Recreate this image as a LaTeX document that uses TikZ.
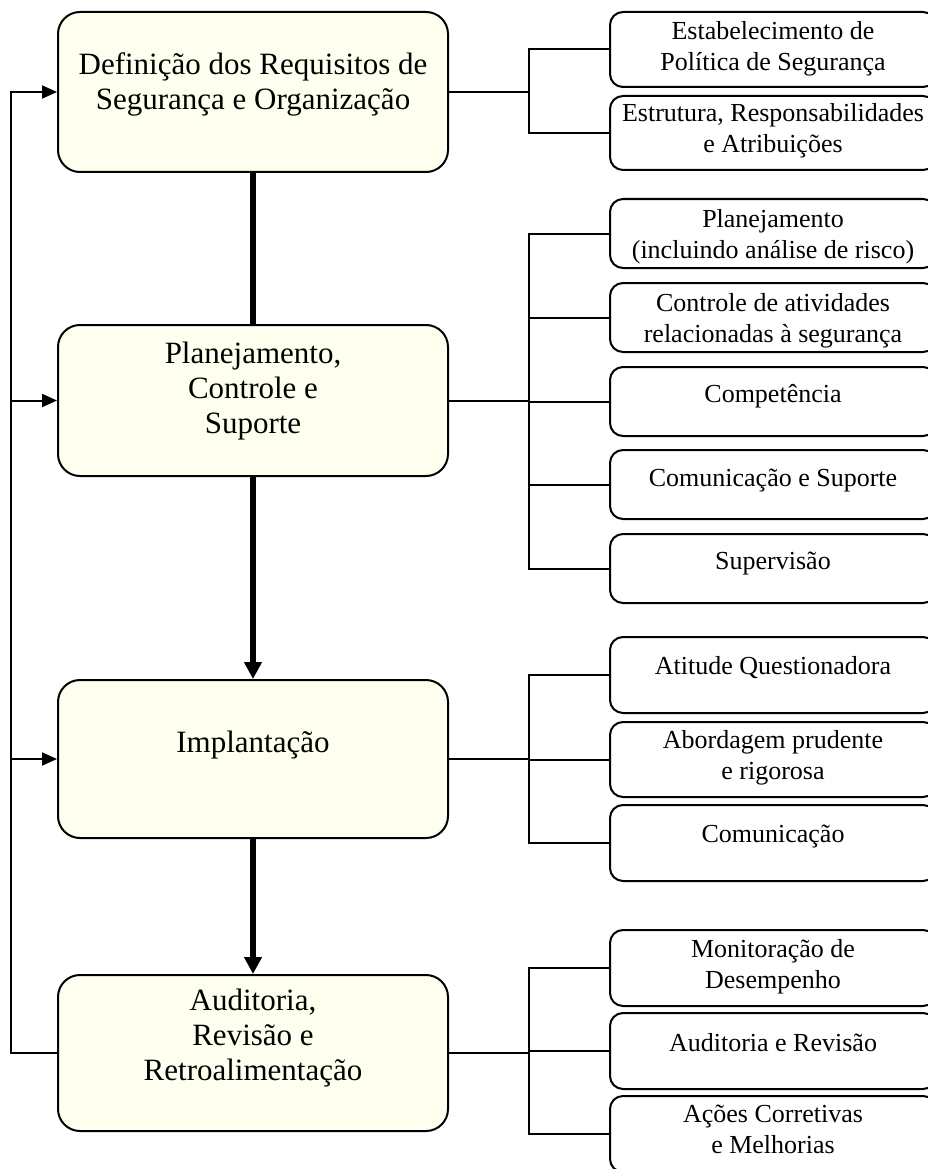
\documentclass[tikz,border=0pt]{standalone}
\usepackage{fontspec}
\setmainfont{Liberation Serif}
\usetikzlibrary{arrows.meta}
\definecolor{cream}{RGB}{255,255,240}
\tikzset{
 mainbox/.style={draw, line width=2pt, fill=cream, rounded corners=22pt, minimum width=390pt, inner sep=0pt},
 subbox/.style={draw, line width=2pt, fill=white, rounded corners=13pt, minimum width=326pt, inner sep=0pt},
 maintxt/.style={font=\fontsize{31}{35}\selectfont, align=center, anchor=base, inner sep=0pt},
 subtxt/.style={font=\fontsize{26}{31}\selectfont, align=center, anchor=base, inner sep=0pt},
 conn/.style={line width=2pt},
 fb/.style={line width=2pt, -{Triangle[length=15pt,width=13pt]}},
 flow/.style={line width=5.5pt, -{Triangle[length=17pt,width=17pt]}},
 flowplain/.style={line width=5.5pt},
}
\begin{document}
\begin{tikzpicture}[x=1pt,y=-1pt]
\useasboundingbox (0,0) rectangle (928,1169);
\clip (0,0) rectangle (928,1169);
\fill[white] (0,0) rectangle (928,1169);
% main boxes
\node[mainbox, minimum height=160pt] (b1) at (253,92) {};
\node[mainbox, minimum height=151pt] (b2) at (253,400.5) {};
\node[mainbox, minimum height=158pt] (b3) at (253,759) {};
\node[mainbox, minimum height=156pt] (b4) at (253,1053) {};
\node[maintxt] (t1) at (253,110) {Definição dos Requisitos de\\Segurança e Organização};
\node[maintxt] (t2) at (253,433) {Planejamento,\\Controle e\\Suporte};
\node[maintxt] (t3) at (253,752) {Implantação};
\node[maintxt] (t4) at (253,1080) {Auditoria,\\Revisão e\\Retroalimentação};
% sub boxes group 1
\node[subbox, minimum height=75pt] (c11) at (773,49.5) {};
\node[subbox, minimum height=74pt] (c12) at (773,133) {};
\node[subtxt] (s11) at (773,71) {Estabelecimento de\\Política de Segurança};
\node[subtxt] (s12) at (773,153) {Estrutura, Responsabilidades\\e Atribuições};
% group 2
\node[subbox, minimum height=69pt] (c21) at (773,233.5) {};
\node[subbox, minimum height=69pt] (c22) at (773,317.5) {};
\node[subbox, minimum height=69pt] (c23) at (773,401.5) {};
\node[subbox, minimum height=69pt] (c24) at (773,484.5) {};
\node[subbox, minimum height=69pt] (c25) at (773,568.5) {};
\node[subtxt] (s21) at (773,258) {Planejamento\\(incluindo análise de risco)};
\node[subtxt] (s22) at (773,342) {Controle de atividades\\relacionadas à segurança};
\node[subtxt] (s23) at (773,402) {Competência};
\node[subtxt] (s24) at (773,486) {Comunicação e Suporte};
\node[subtxt] (s25) at (773,569) {Supervisão};
% group 3
\node[subbox, minimum height=76pt] (c31) at (773,675) {};
\node[subbox, minimum height=75pt] (c32) at (773,759.5) {};
\node[subbox, minimum height=76pt] (c33) at (773,843) {};
\node[subtxt] (s31) at (773,674) {Atitude Questionadora};
\node[subtxt] (s32) at (773,779) {Abordagem prudente\\e rigorosa};
\node[subtxt] (s33) at (773,842) {Comunicação};
% group 4
\node[subbox, minimum height=76pt] (c41) at (773,968) {};
\node[subbox, minimum height=76pt] (c42) at (773,1051) {};
\node[subbox, minimum height=76pt] (c43) at (773,1134) {};
\node[subtxt] (s41) at (773,988) {Monitoração de\\Desempenho};
\node[subtxt] (s42) at (773,1051) {Auditoria e Revisão};
\node[subtxt] (s43) at (773,1153) {Ações Corretivas\\e Melhorias};
% right connectors
\draw[conn] (b1.east) -- ++(80,0) coordinate (j1);
\draw[conn] (c11.west) -| (j1);
\draw[conn] (c12.west) -| (j1);
\draw[conn] (b2.east) -- ++(80,0) coordinate (j2);
\foreach \c in {c21,c22,c23,c24,c25} \draw[conn] (\c.west) -| (j2);
\draw[conn] (b3.east) -- ++(80,0) coordinate (j3);
\foreach \c in {c31,c32,c33} \draw[conn] (\c.west) -| (j3);
\draw[conn] (b4.east) -- ++(80,0) coordinate (j4);
\foreach \c in {c41,c42,c43} \draw[conn] (\c.west) -| (j4);
% main flow
\draw[flowplain] (b1.south) -- (b2.north);
\draw[flow] (b2.south) -- (b3.north);
\draw[flow] (b3.south) -- (b4.north);
% feedback
\draw[fb] (b4.west) -- ++(-46,0) coordinate (fbk) |- (b1.west);
\draw[fb] (fbk |- b2.west) -- (b2.west);
\draw[fb] (fbk |- b3.west) -- (b3.west);
\end{tikzpicture}
\end{document}
